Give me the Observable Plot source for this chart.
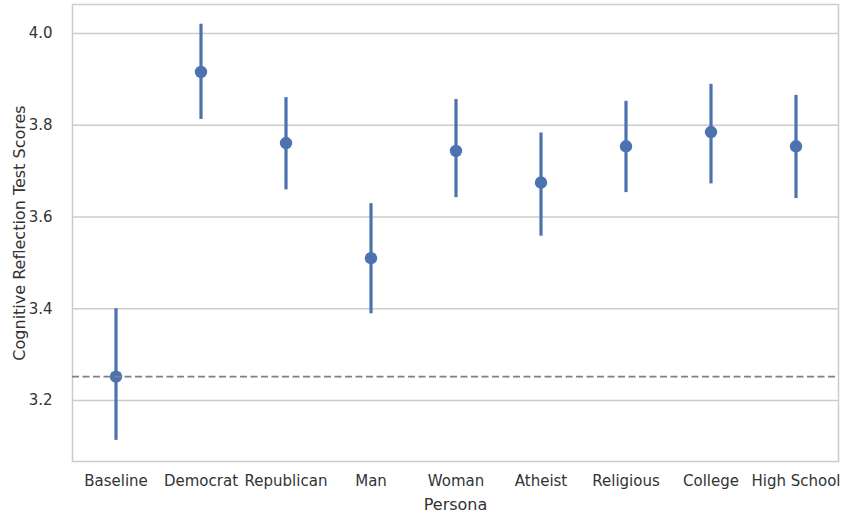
<!DOCTYPE html>
<html>
<head>
<meta charset="utf-8">
<script src="https://cdn.jsdelivr.net/npm/d3@7"></script>
<script src="https://cdn.jsdelivr.net/npm/@observablehq/plot@0.6"></script>
<style>
  html, body { margin: 0; padding: 0; background: #fff; }
  #chart svg { display: block; }
</style>
</head>
<body>
<div id="chart"></div>
<script>
const personas = ["Baseline", "Democrat", "Republican", "Man", "Woman", "Atheist", "Religious", "College", "High School"];
const means  = [3.252, 3.916, 3.761, 3.510, 3.744, 3.675, 3.754, 3.785, 3.754];
const ciLow  = [3.113, 3.8125, 3.659, 3.389, 3.642, 3.558, 3.653, 3.672, 3.640];
const ciHigh = [3.400, 4.020, 3.860, 3.629, 3.856, 3.783, 3.852, 3.889, 3.865];
const baselineScore = 3.252;
const yTicks = [3.2, 3.4, 3.6, 3.8, 4.0];

const data = personas.map((p, i) => ({persona: p, mean: means[i], lo: ciLow[i], hi: ciHigh[i]}));
const blue = "#4c72b0";
const font = "'DejaVu Sans', sans-serif";

const chart = Plot.plot({
  width: 842,
  height: 515,
  marginLeft: 72,
  marginRight: 4,
  marginTop: 4,
  marginBottom: 54,
  style: {fontFamily: font, fontSize: "15px", color: "#333333", background: "#fff"},
  x: {type: "band", domain: personas, padding: 0, label: null},
  y: {domain: [3.067, 4.063], label: null},
  marks: [
    Plot.gridY(yTicks, {stroke: "#cccccc", strokeOpacity: 1, strokeWidth: 1.5}),
    Plot.frame({stroke: "#cccccc", strokeWidth: 1.5}),
    Plot.axisX({tickSize: 0, tickPadding: 14, fontSize: "15px", label: null, fill: "#333333"}),
    Plot.axisY(yTicks, {tickSize: 0, tickPadding: 20, fontSize: "15px", tickFormat: d3.format(".1f"), label: null, fill: "#333333"}),
    Plot.text(["Persona"], {frameAnchor: "bottom", dy: 48, fontSize: "16px", fill: "#333333"}),
    Plot.text(["Cognitive Reflection Test Scores"], {frameAnchor: "left", textAnchor: "middle", dx: -53, rotate: -90, fontSize: "16px", fill: "#333333"}),
    Plot.ruleX(data, {x: "persona", y1: "lo", y2: "hi", stroke: blue, strokeWidth: 3.2}),
    Plot.dot(data, {x: "persona", y: "mean", r: 6.2, fill: blue, stroke: null}),
    Plot.ruleY([baselineScore], {stroke: "#808080", strokeWidth: 1.8, strokeDasharray: "7,3.5"})
  ]
});
document.getElementById("chart").appendChild(chart);
</script>
</body>
</html>
